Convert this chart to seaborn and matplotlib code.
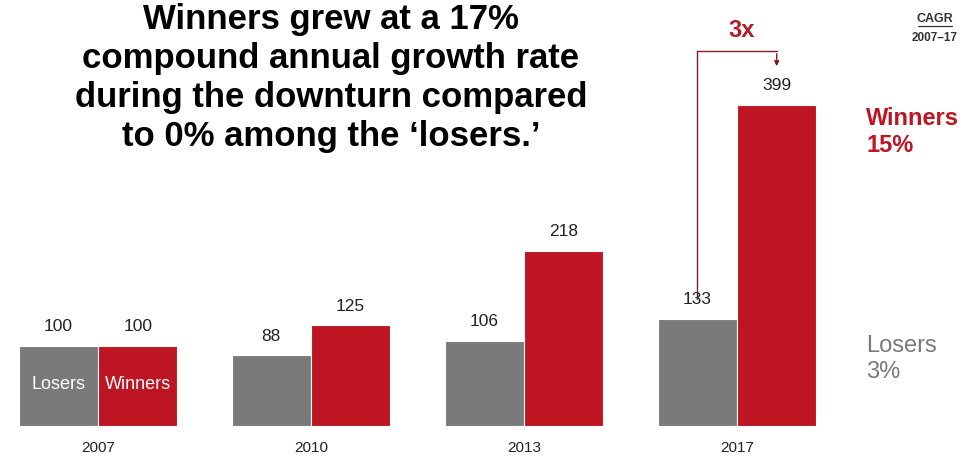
import matplotlib
matplotlib.use("Agg")
import matplotlib.pyplot as plt
import seaborn as sns
import pandas as pd

years = ["2007", "2010", "2013", "2017"]
losers = [100, 88, 106, 133]
winners = [100, 125, 218, 399]
groups = ["Losers", "Winners"]

title_lines = "Winners grew at a 17%\ncompound annual growth rate\nduring the downturn compared\nto 0% among the \u2018losers.\u2019"

GRAY = "#7a7a7a"
RED = "#be1522"

sns.set_theme(style="white")
plt.rcParams["font.family"] = ["Liberation Sans", "DejaVu Sans"]

df = pd.DataFrame({
    "year": years * 2,
    "value": losers + winners,
    "group": [groups[0]] * len(years) + [groups[1]] * len(years),
})

fig = plt.figure(figsize=(9.8, 4.6), dpi=100)
ax = fig.add_axes([0, 0, 1, 1])
sns.barplot(data=df, x="year", y="value", hue="group", palette=[GRAY, RED],
            saturation=1, width=0.745, gap=0, edgecolor="white", linewidth=0.8,
            ax=ax, legend=False)

px_per_unit = 0.805
ax.set_xlim(-98 / 213, (980 - 98) / 213)
ax.set_ylim(-33 / px_per_unit, 427 / px_per_unit)
ax.axis("off")

# value labels
for cont in ax.containers:
    ax.bar_label(cont, labels=[f"{int(v)}" for v in cont.datavalues], padding=9,
                 fontsize=12.5, color="#222222")

# year labels
for i, y in enumerate(years):
    ax.text(i, -21 / px_per_unit, y, ha="center", va="center", fontsize=11, color="#222222")

# in-bar labels for first year
bars_l = ax.containers[0][0]
bars_w = ax.containers[1][0]
for b, name in [(bars_l, groups[0]), (bars_w, groups[1])]:
    ax.text(b.get_x() + b.get_width() / 2, 42 / px_per_unit, name, ha="center", va="center",
            fontsize=13, color="white")

# title
fig.text(331 / 980, 1 - 78 / 460, title_lines, ha="center", va="center", fontsize=25,
         fontweight="bold", color="black", linespacing=1.24)

# bracket 3x
bl = ax.containers[0][3]
bw = ax.containers[1][3]
xl = bl.get_x() + bl.get_width() / 2
xw = bw.get_x() + bw.get_width() / 2
ytop = (427 - 52) / px_per_unit
ax.plot([xl, xl, xw], [(427 - 300) / px_per_unit, ytop, ytop], color="#8a1a22", lw=1)
ax.annotate("", xy=(xw, (427 - 70) / px_per_unit), xytext=(xw, ytop),
            arrowprops=dict(arrowstyle="-|>", color="#8a1a22", lw=1, mutation_scale=7))
fig.text(742 / 980, 1 - 31 / 460, "3x", ha="center", va="center", fontsize=17,
         fontweight="bold", color="#b01c28")

# CAGR header
fig.text(935 / 980, 1 - 19 / 460, "CAGR", ha="center", va="center", fontsize=9,
         fontweight="bold", color="#333333")
fig.add_artist(plt.Line2D([918 / 980, 952 / 980], [1 - 27 / 460, 1 - 27 / 460],
                          color="#333333", lw=0.9))
fig.text(935 / 980, 1 - 38 / 460, "2007\u201317", ha="center", va="center", fontsize=8.5,
         fontweight="bold", color="#333333")

# side labels
fig.text(866 / 980, 1 - 132 / 460, "Winners\n15%", ha="left", va="center", fontsize=17,
         fontweight="bold", color=RED, linespacing=1.25)
fig.text(866 / 980, 1 - 359 / 460, "Losers\n3%", ha="left", va="center", fontsize=17,
         color=GRAY, linespacing=1.25)

fig.savefig("out.png", dpi=100)
